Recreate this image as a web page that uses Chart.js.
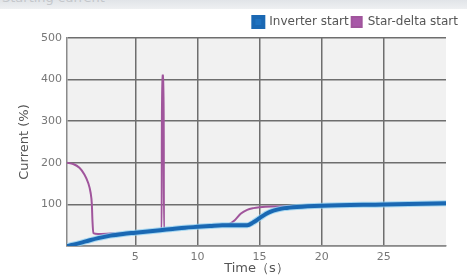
<!DOCTYPE html>
<html><head><meta charset="utf-8">
<script src="https://cdn.jsdelivr.net/npm/chart.js@4/dist/chart.umd.min.js"></script>
<style>
html,body{margin:0;padding:0;background:#fff;}
#wrap{position:relative;width:467px;height:276px;overflow:hidden;}
#hdr{position:absolute;left:0;top:0;width:467px;height:9px;overflow:hidden;background:linear-gradient(#e1e4e8,#eef0f2);}
#hdr span{position:absolute;left:2px;top:-10px;font:13px "DejaVu Sans";color:#c4c7cb;}
canvas{position:absolute;left:0;top:0;}
</style></head>
<body><div id="wrap"><canvas id="c" width="467" height="276"></canvas><div id="hdr"><span>Starting current</span></div></div>
<script>
const seriesNames = ["Inverter start", "Star-delta start"];
const inverterTime = [-0.5, 0, 1, 2, 3, 4, 5, 6, 7, 8, 9, 10, 11, 12, 13, 14, 14.5, 15, 15.5, 16, 16.5, 17, 18, 20, 25, 30];
const inverterCurrent = [0, 3, 11, 19, 25, 29, 32, 35, 38, 41, 44, 46, 48, 50, 50, 50, 57, 67, 77, 84, 88, 91, 94, 97, 100, 103];
const starDeltaTime = [-0.5, 0, 0.5, 0.9, 1.2, 1.4, 1.5, 1.55, 1.62, 2, 3, 4, 5, 6, 7, 7.12, 7.14, 7.28, 7.3, 8, 9, 10, 11, 12, 12.5, 13, 13.5, 14, 14.5, 15, 16, 18, 20, 25, 30];
const starDeltaCurrent = [200, 197, 188, 172, 152, 128, 100, 60, 31, 29, 30, 31, 33, 36, 38, 38, 410, 410, 40, 41, 44, 46, 48, 50, 52, 62, 78, 87, 91, 93, 95, 96, 97, 100, 103];
const xTicks = [5, 10, 15, 20, 25];
const yTicks = [100, 200, 300, 400, 500];

const toPts = (xs, ys) => xs.map((x, i) => ({x: x, y: ys[i]}));

const bgPlugin = {
  id: 'bg',
  beforeDraw(chart) {
    const {ctx, chartArea: a} = chart;
    ctx.save();
    ctx.fillStyle = '#f1f1f1';
    ctx.fillRect(a.left, a.top, a.right - a.left, a.bottom - a.top);
    ctx.restore();
  }
};

new Chart(document.getElementById('c'), {
  type: 'line',
  data: {
    datasets: [
      {label: seriesNames[0], data: toPts(inverterTime, inverterCurrent), borderColor: '#1a68b3', backgroundColor: '#1f72c0', borderWidth: 4, pointRadius: 0, cubicInterpolationMode: 'monotone', order: 0},
      {label: '_halo', data: toPts(inverterTime, inverterCurrent), borderColor: 'rgba(140,205,240,0.75)', backgroundColor: 'rgba(0,0,0,0)', borderWidth: 6, pointRadius: 0, cubicInterpolationMode: 'monotone', order: 1},
      {label: seriesNames[1], data: toPts(starDeltaTime, starDeltaCurrent), borderColor: '#a0559c', backgroundColor: '#a858a8', borderWidth: 2, pointRadius: 0, cubicInterpolationMode: 'monotone', order: 2}
    ]
  },
  options: {
    responsive: false,
    animation: false,
    devicePixelRatio: 1,
    layout: {padding: {left: 0, right: 6, top: 13, bottom: 0}},
    plugins: {
      legend: {
        position: 'top', align: 'end',
        labels: {
          filter: (item) => item.text !== '_halo',
          boxWidth: 10, boxHeight: 10, padding: 3,
          color: '#555', font: {family: 'DejaVu Sans', size: 12}
        }
      },
      tooltip: {enabled: false}
    },
    scales: {
      x: {
        type: 'linear', min: -0.5, max: 30,
        afterBuildTicks: (s) => { s.ticks = xTicks.map(v => ({value: v})); },
        afterFit: (s) => { s.height = 30; },
        grid: {color: '#6e6e6e', lineWidth: 1.5, drawTicks: false},
        border: {color: '#8a8a8a', width: 1.5},
        ticks: {color: '#777', font: {family: 'DejaVu Sans', size: 11}, padding: 5, maxRotation: 0},
        title: {display: true, text: 'Time（s）', color: '#555', font: {family: 'DejaVu Sans', size: 13}, padding: {top: 0, bottom: 0}}
      },
      y: {
        min: 0, max: 500,
        afterBuildTicks: (s) => { s.ticks = [0].concat(yTicks).map(v => ({value: v})); },
        afterFit: (s) => { s.width = 67; s.paddingTop = 0; },
        grid: {color: '#6e6e6e', lineWidth: 1.5, drawTicks: false},
        border: {color: '#8a8a8a', width: 1.5},
        ticks: {color: '#777', font: {family: 'DejaVu Sans', size: 11}, padding: 5, callback: (v) => v === 0 ? '' : String(v)},
        title: {display: true, text: 'Current (%)', color: '#555', font: {family: 'DejaVu Sans', size: 13}, padding: {top: 17, bottom: 0}}
      },
      y2: {
        position: 'right', display: true,
        afterFit: (s) => { s.width = 15; },
        grid: {display: false, drawOnChartArea: false}, border: {display: false},
        ticks: {display: false}
      }
    }
  },
  plugins: [bgPlugin]
});
</script></body></html>
